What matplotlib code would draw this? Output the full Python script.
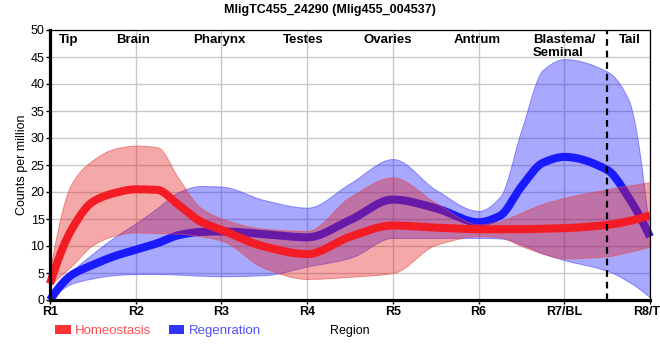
import numpy as np
import matplotlib
matplotlib.use("Agg")
import matplotlib.pyplot as plt
from matplotlib.patches import Patch

plt.rcParams["font.family"] = ["Liberation Sans", "DejaVu Sans"]

# ============================================================
# DADOS
# ============================================================

regioes = ["R1", "R2", "R3", "R4", "R5", "R6", "R7/BL", "R8/TL"]

pos = [1, 1.25, 1.5, 1.75, 2, 2.25, 2.5, 2.75, 3, 3.5, 4, 4.5, 5, 5.5, 6,
       6.25, 6.5, 6.75, 7, 7.5, 7.75, 8]

homeo_media = [3.0, 13.0, 18.2, 19.8, 20.5, 20.4, 17.6, 14.6, 13.0, 9.9, 8.5, 11.7,
               13.8, 13.4, 13.1, 13.1, 13.1, 13.2, 13.3, 13.9, 14.6, 15.7]
homeo_sup = [5.6, 21.5, 25.9, 28.0, 28.6, 28.3, 22.5, 17.2, 15.1, 13.2, 12.8, 19.1,
             22.7, 18.0, 14.0, 14.6, 16.2, 17.8, 18.9, 20.5, 21.2, 21.8]
homeo_inf = [2.8, 6.3, 10.2, 11.9, 12.5, 12.4, 12.3, 11.8, 11.0, 5.9, 3.9, 4.3,
             5.0, 10.2, 11.8, 11.6, 10.0, 8.6, 7.7, 8.1, 8.9, 9.9]

regen_media = [0.0, 4.6, 6.5, 8.1, 9.3, 10.5, 12.0, 12.6, 12.7, 12.2, 11.6, 14.8,
               18.6, 17.0, 14.4, 15.6, 21.0, 25.4, 26.5, 24.1, 19.0, 11.7]
regen_sup = [0.0, 5.2, 8.6, 11.6, 14.2, 17.0, 20.0, 21.1, 21.0, 18.5, 17.1, 21.6,
             26.1, 20.4, 16.5, 19.1, 31.5, 42.6, 44.6, 42.3, 37.0, 11.7]
regen_inf = [0.0, 3.0, 4.0, 4.6, 4.8, 4.8, 4.7, 4.5, 4.4, 4.6, 6.2, 7.8,
             11.5, 11.5, 11.5, 11.4, 10.3, 8.6, 7.4, 5.4, 3.4, 0.5]

orgaos = ["Tip", "Brain", "Pharynx", "Testes", "Ovaries", "Antrum", "Blastema/\nSeminal", "Tail"]
orgaos_x = [1.22, 1.97, 2.98, 3.95, 4.94, 5.98, 7.0, 7.77]


# ============================================================
# CURVA MONOTONA (estilo d3 monotone)
# ============================================================

def pchip(x, y, xs):
    x = np.asarray(x, float)
    y = np.asarray(y, float)
    h = np.diff(x)
    d = np.diff(y) / h
    n = len(x)
    m = np.zeros(n)
    for k in range(1, n - 1):
        if d[k - 1] * d[k] > 0:
            w1 = 2 * h[k] + h[k - 1]
            w2 = h[k] + 2 * h[k - 1]
            m[k] = (w1 + w2) / (w1 / d[k - 1] + w2 / d[k])

    def borda(h0, h1, d0, d1):
        s = ((2 * h0 + h1) * d0 - h0 * d1) / (h0 + h1)
        if np.sign(s) != np.sign(d0):
            return 0.0
        if np.sign(d0) != np.sign(d1) and abs(s) > 3 * abs(d0):
            return 3 * d0
        return s

    m[0] = borda(h[0], h[1], d[0], d[1])
    m[-1] = borda(h[-1], h[-2], d[-1], d[-2])

    idx = np.clip(np.searchsorted(x, xs) - 1, 0, n - 2)
    t = (xs - x[idx]) / h[idx]
    h00 = 2 * t**3 - 3 * t**2 + 1
    h10 = t**3 - 2 * t**2 + t
    h01 = -2 * t**3 + 3 * t**2
    h11 = t**3 - t**2
    return h00 * y[idx] + h10 * h[idx] * m[idx] + h01 * y[idx + 1] + h11 * h[idx] * m[idx + 1]


xs = np.linspace(1, 8, 800)

# ============================================================
# GRAFICO
# ============================================================

fig = plt.figure(figsize=(6.6, 3.6), dpi=100)
ax = fig.add_axes([50 / 660, 60 / 360, 600 / 660, 270 / 360])

# regeneracao
ax.fill_between(xs, pchip(pos, regen_inf, xs), pchip(pos, regen_sup, xs),
                facecolor=(0.1, 0.1, 1.0, 0.38), edgecolor=(0.3, 0.3, 1.0, 0.6),
                linewidth=0.7, zorder=1)
ax.plot(xs, pchip(pos, regen_media, xs), color="#1a1aff", lw=5.8,
        solid_capstyle="butt", zorder=1.5, clip_on=False)

# homeostase
ax.fill_between(xs, pchip(pos, homeo_inf, xs), pchip(pos, homeo_sup, xs),
                facecolor=(0.9, 0.1, 0.1, 0.38), edgecolor=(0.9, 0.3, 0.3, 0.6),
                linewidth=0.7, zorder=1.6)
ax.plot(xs, pchip(pos, homeo_media, xs), color="#f41c24", lw=5.8,
        solid_capstyle="butt", zorder=1.7, clip_on=False)

ax.axvline(7.5, color="black", lw=1.6, ls=(0, (3, 2.2)), zorder=2)

for nome, xo in zip(orgaos, orgaos_x):
    ax.text(xo, 49.3, nome, ha="center", va="top", fontsize=9.5,
            fontweight="bold", multialignment="left", linespacing=1.1)

ax.set_xlim(1, 8)
ax.set_ylim(0, 50)
ax.set_xticks(range(1, 9))
ax.set_xticklabels(regioes, fontweight="bold", fontsize=9)
ax.set_yticks(range(0, 51, 5))
ax.tick_params(axis="y", labelsize=9, length=3, width=1, pad=1)
ax.tick_params(axis="x", length=3, width=1, pad=1)
ax.grid(True, color="#c8c8c8", lw=1)
ax.set_axisbelow(True)

for lado in ["left", "bottom"]:
    ax.spines[lado].set_linewidth(2.3)
for lado in ["top", "right"]:
    ax.spines[lado].set_linewidth(0.9)

ax.set_ylabel("Counts per million", fontsize=9, labelpad=2)
fig.text(0.5, 1 - 10 / 360, "MligTC455_24290 (Mlig455_004537)", ha="center",
         va="center", fontsize=9, fontweight="bold")

fig.text(350 / 660, 1 - 331 / 360, "Region", ha="center", va="center", fontsize=9)

handles = [Patch(facecolor="#ff3333", edgecolor="none"),
           Patch(facecolor="#3333ff", edgecolor="none")]
fig.legend(handles, ["Homeostasis", "Regenration"], ncol=2, frameon=False,
           loc="center left", bbox_to_anchor=(50 / 660, 1 - 331 / 360),
           labelcolor=["#ff5050", "#5050ff"], fontsize=9.5,
           handlelength=1.2, handleheight=0.6, handletextpad=0.3,
           columnspacing=1.3, borderaxespad=0)

plt.savefig("out.png", dpi=100)
plt.close()
